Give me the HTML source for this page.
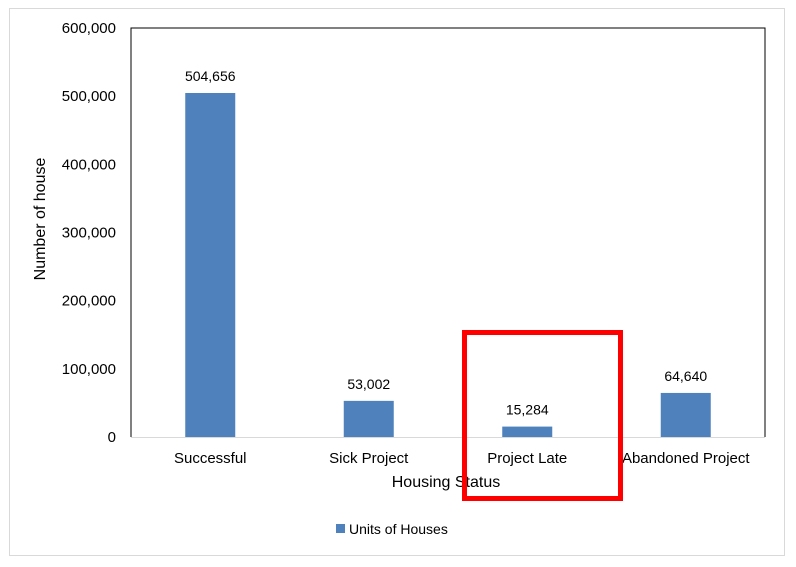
<!DOCTYPE html>
<html><head><style>
body{margin:0;background:#fff;}
svg{display:block;font-family:"Liberation Sans",Arial,sans-serif;}
</style></head><body>
<svg width="796" height="567">
<rect x="9.5" y="8.5" width="775" height="547" fill="#fff" stroke="#d9d9d9"/>
<g id="plot"></g>
<text x="446" y="487" font-size="16" text-anchor="middle">Housing Status</text>
<text transform="translate(45,219) rotate(-90)" font-size="16" text-anchor="middle">Number of house</text>
<g>
<rect x="336" y="524" width="9" height="9" fill="#4f81bd"/>
<text x="349" y="534" font-size="14">Units of Houses</text>
</g>
<rect x="464.5" y="332.5" width="156" height="166" fill="none" stroke="#ff0000" stroke-width="5"/>
</svg>
<script>
const categories=["Successful","Sick Project","Project Late","Abandoned Project"];
const values=[504656,53002,15284,64640];
const valueLabels=["504,656","53,002","15,284","64,640"];
const yTicks=[0,100000,200000,300000,400000,500000,600000];
const yTickLabels=["0","100,000","200,000","300,000","400,000","500,000","600,000"];
const L=131,R=765,T=28,B=437,yMax=600000;
const y=v=>B-(v/yMax)*(B-T);
const band=(R-L)/categories.length;
const x=i=>L+band*(i+0.5);
const NS="http://www.w3.org/2000/svg";
const g=document.getElementById('plot');
function mk(t,a){const e=document.createElementNS(NS,t);for(const k in a)e.setAttribute(k,a[k]);g.appendChild(e);return e;}
const frame=mk('path',{d:`M${L},${B} V${T} H${R} V${B}`,fill:'none',stroke:'#000','stroke-width':1});


const ax=mk('line',{x1:L,x2:R,y1:B+0.5,y2:B+0.5,stroke:'#d9d9d9'});


yTicks.forEach((v,i)=>{
 const t=mk('text',{x:L-15,y:y(v)+5,'font-size':15,'text-anchor':'end'});
 t.textContent=yTickLabels[i];
 
 
});
categories.forEach((c,i)=>{
 const r=mk('rect',{x:x(i)-25,y:y(values[i]),width:50,height:B-y(values[i]),fill:'#4f81bd'});
 
 
 const vl=mk('text',{x:x(i),y:y(values[i])-12,'font-size':14,'text-anchor':'middle'});
 vl.textContent=valueLabels[i];
 
 
 const cl=mk('text',{x:x(i),y:463,'font-size':15,'text-anchor':'middle'});
 cl.textContent=c;
 
 
});
</script>
</body></html>
